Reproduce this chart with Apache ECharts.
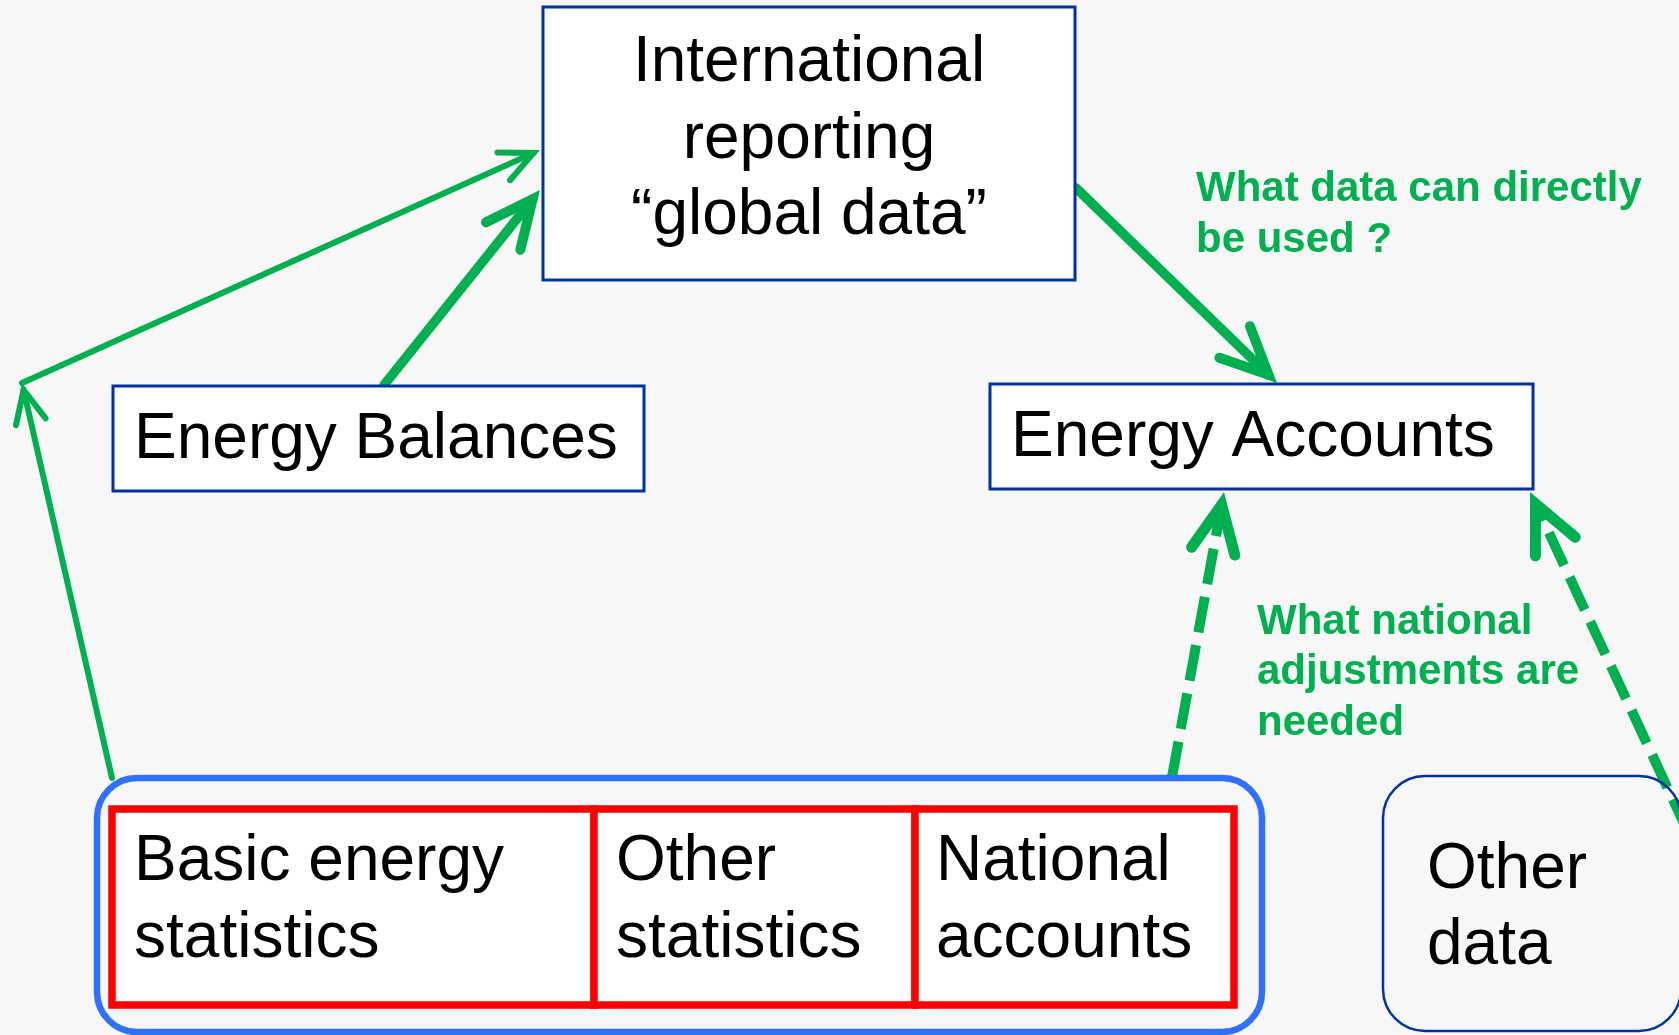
<!DOCTYPE html>
<html>
<head>
<meta charset="utf-8">
<title>Energy data flows</title>
<script src="https://cdn.jsdelivr.net/npm/echarts@6/dist/echarts.min.js"></script>
<style>
    * { margin: 0; padding: 0; }
    html, body { width: 100%; height: 100%; background: #f7f7f7; overflow: hidden; }
    #chart { width: 1679px; height: 1035px; }
</style>
</head>
<body>
<div id="chart"></div>
<script>
    // diagram units: x 0..1679 left to right, y 0..1035 top down
    const boxLabels = [
        ['International', 'reporting', '“global data”'],
        ['Energy Balances'],
        ['Energy Accounts'],
        ['Basic energy', 'statistics'],
        ['Other', 'statistics'],
        ['National', 'accounts'],
        ['Other', 'data']
    ];
    const boxEdges = [        // left, top, right, bottom
        [543, 7, 1075, 280],
        [113, 386, 644, 491],
        [990, 384, 1533, 489],
        [112, 809, 594, 1005],
        [594, 809, 915, 1005],
        [915, 809, 1234, 1005],
        [1383, 776, 1681, 1031]
    ];
    const boxKinds = ['plain', 'plain', 'plain', 'source', 'source', 'source', 'other'];
    const boxTextAt = [       // first baseline
        [809, 80], [134, 457], [1011, 455],
        [134, 879], [616, 879], [936, 879], [1427, 887]
    ];
    const groupEdges = [[97, 778, 1262, 1032]];   // blue frame round the three sources

    const flowPaths = [
        [[112, 778], [22, 383]],
        [[22, 383], [540, 150]],
        [[384, 385], [540, 190]],
        [[1076, 188], [1277, 383]],
        [[1172, 777], [1224, 492]],
        [[1688, 832], [1530, 492]]
    ];
    const flowKinds = ['thin', 'thin', 'solid', 'solid', 'dashed', 'dashed'];

    const noteLines = [
        ['What data can directly', 'be used ?'],
        ['What national', 'adjustments are', 'needed']
    ];
    const noteAt = [[1196, 200], [1257, 633]];

    const GREEN = '#00b050';
    const FONT = '"Liberation Sans", Arial, sans-serif';
    const boxStyle = {
        plain:  { fill: '#ffffff', stroke: '#0033a0', width: 3, r: 0, align: 'left', gap: 77 },
        source: { fill: '#ffffff', stroke: '#ff0000', width: 7.5, r: 0, align: 'left', gap: 77 },
        other:  { fill: 'transparent', stroke: '#0033a0', width: 2.5, r: 42, align: 'left', gap: 76 }
    };
    const flowStyle = {
        thin:   { width: 6, head: 36, headWidth: 6, angle: 25, dash: null },
        solid:  { width: 9.5, head: 52, headWidth: 10, angle: 25, dash: null },
        dashed: { width: 10, head: 52, headWidth: 11, angle: 25, dash: [36, 13] }
    };

    // alphabetic baseline -> middle of the line box
    function mid(y, size) { return y - size * 0.255; }

    function renderBox(params, api) {
        const i = params.dataIndex;
        const st = boxStyle[boxKinds[i]];
        const p0 = api.coord([api.value(0), api.value(1)]);
        const p1 = api.coord([api.value(2), api.value(3)]);
        const children = [{
            type: 'rect',
            shape: { x: p0[0], y: p0[1], width: p1[0] - p0[0], height: p1[1] - p0[1], r: st.r },
            style: { fill: st.fill, stroke: st.stroke, lineWidth: st.width }
        }];
        const at = api.coord(boxTextAt[i]);
        const align = i === 0 ? 'center' : st.align;
        const gap = i === 0 ? 76.5 : st.gap;
        boxLabels[i].forEach((line, k) => {
            children.push({
                type: 'text',
                style: {
                    text: line, x: at[0], y: mid(at[1] + k * gap, 64),
                    font: '64px ' + FONT, fill: '#000', align: align, verticalAlign: 'middle'
                }
            });
        });
        return { type: 'group', children: children };
    }

    function renderGroup(params, api) {
        const p0 = api.coord([api.value(0), api.value(1)]);
        const p1 = api.coord([api.value(2), api.value(3)]);
        return {
            type: 'rect',
            shape: { x: p0[0], y: p0[1], width: p1[0] - p0[0], height: p1[1] - p0[1], r: 40 },
            style: { fill: 'transparent', stroke: '#3070ff', lineWidth: 6.5 }
        };
    }

    function renderFlow(params, api) {
        const i = params.dataIndex;
        const st = flowStyle[flowKinds[i]];
        const pts = flowPaths[i].map(p => api.coord(p));
        const tipSeen = pts[pts.length - 1], prev = pts[pts.length - 2];
        const dx = prev[0] - tipSeen[0], dy = prev[1] - tipSeen[1];
        const len = Math.hypot(dx, dy);
        const ux = dx / len, uy = dy / len;
        const t = st.angle * Math.PI / 180;
        // pull the join back so the mitred point lands on the drawn tip
        const back = (st.headWidth / 2) / Math.sin(t);
        const tip = [tipSeen[0] + ux * back, tipSeen[1] + uy * back];
        const arm = a => [
            tip[0] + st.head * (ux * Math.cos(a) - uy * Math.sin(a)),
            tip[1] + st.head * (ux * Math.sin(a) + uy * Math.cos(a))
        ];
        const shaft = pts.slice(0, -1).concat([tip]);
        return {
            type: 'group',
            children: [
                {
                    type: 'polyline',
                    shape: { points: shaft },
                    style: { stroke: GREEN, fill: null, lineWidth: st.width, lineDash: st.dash,
                             lineCap: st.dash ? 'butt' : 'round', lineJoin: 'round' }
                },
                {
                    type: 'polyline',
                    shape: { points: [arm(t), tip, arm(-t)] },
                    style: { stroke: GREEN, fill: null, lineWidth: st.headWidth,
                             lineCap: 'round', lineJoin: 'miter', miterLimit: 10 }
                }
            ]
        };
    }

    function renderNote(params, api) {
        const i = params.dataIndex;
        const at = api.coord(noteAt[i]);
        const gap = i === 0 ? 51.5 : 50.5;
        return {
            type: 'group',
            children: noteLines[i].map((line, k) => ({
                type: 'text',
                style: {
                    text: line, x: at[0], y: mid(at[1] + k * gap, 42),
                    font: 'bold 42px ' + FONT, fill: GREEN, align: 'left', verticalAlign: 'middle'
                }
            }))
        };
    }

    const option = {
        backgroundColor: '#f7f7f7',
        animation: false,
        grid: { left: 0, right: 0, top: 0, bottom: 0 },
        xAxis: { type: 'value', min: 0, max: 1679, show: false },
        yAxis: { type: 'value', min: 0, max: 1035, inverse: true, show: false },
        series: [
            {
                type: 'custom', name: 'flows', silent: true, clip: false, z: 2,
                renderItem: renderFlow,
                data: flowPaths.map(p => [p[0][0], p[0][1]]),
                encode: { x: 0, y: 1 }
            },
            {
                type: 'custom', name: 'group', silent: true, clip: false, z: 3,
                renderItem: renderGroup,
                data: groupEdges,
                encode: { x: [0, 2], y: [1, 3] }
            },
            {
                type: 'custom', name: 'boxes', silent: true, clip: false, z: 4,
                renderItem: renderBox,
                data: boxEdges,
                encode: { x: [0, 2], y: [1, 3] }
            },
            {
                type: 'custom', name: 'notes', silent: true, clip: false, z: 5,
                renderItem: renderNote,
                data: noteAt,
                encode: { x: 0, y: 1 }
            }
        ]
    };

    let myChart = echarts.init(document.getElementById('chart'));
    myChart.setOption(option);
</script>
</body>
</html>
